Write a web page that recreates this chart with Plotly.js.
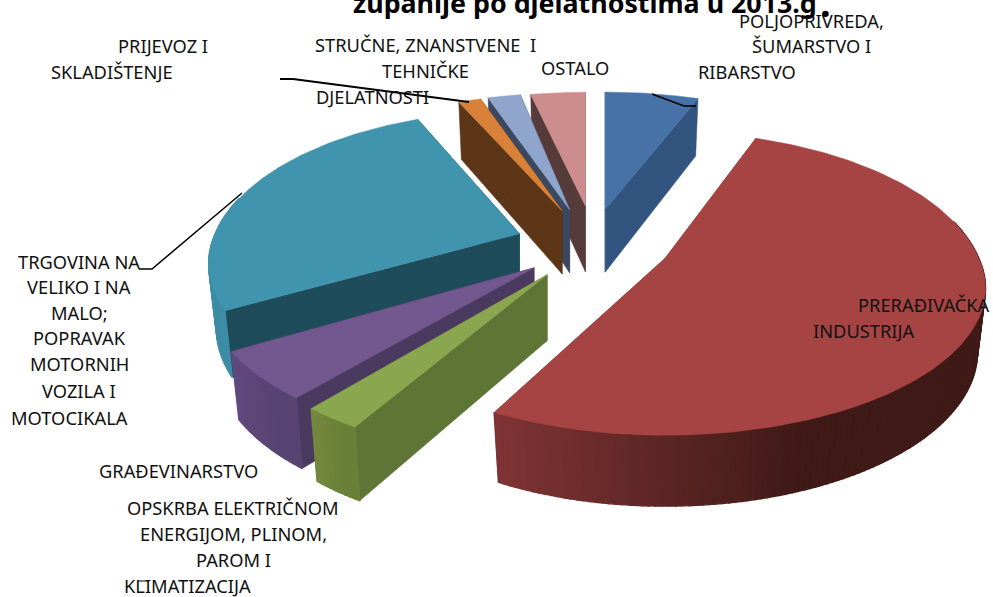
<!DOCTYPE html>
<html><head><meta charset="utf-8">
<script src="https://cdn.plot.ly/plotly-3.0.1.min.js"></script>
<style>html,body{margin:0;padding:0;background:#fff}#c{width:993px;height:597px}</style>
</head><body><div id="c"></div>
<script>
// Shares (percent) in clockwise order from 12 o'clock
const categories = ["POLJOPRIVREDA, ŠUMARSTVO I RIBARSTVO","PRERAĐIVAČKA INDUSTRIJA","OPSKRBA ELEKTRIČNOM ENERGIJOM, PLINOM, PAROM I KLIMATIZACIJA","GRAĐEVINARSTVO","TRGOVINA NA VELIKO I NA MALO; POPRAVAK MOTORNIH VOZILA I MOTOCIKALA","PRIJEVOZ I SKLADIŠTENJE","STRUČNE, ZNANSTVENE I TEHNIČKE DJELATNOSTI","OSTALO"];
const values = [5.6,52,3,5.3,27.6,1.4,1.7,3.4];
const topColors = ["#4672a8","#a64444","#8aa64e","#73578f","#4094ad","#d98139","#8fa5cc","#ce8d8d"];
const cutColors = ["#33547e","#7a3232","#5f7536","#4b3a60","#1f4c5a","#5c3617","#3b4960","#563b3b"];
const sideLeft  = ["#33547e","#7f3434","#74893f","#614a7f","#3e8ca5","#5c3617","#3b4960","#563b3b"];
const sideRight = ["#33547e","#3f1a17","#6a8038","#584472","#3e93ad","#5c3617","#3b4960","#563b3b"];
const paintOrder = [7,6,5,0,4,3,2,1];
// per-slice camera corrections (the source's projection of pulled slices is not a pure translation)
const sliceView = [
 {dx:0,dy:0,da0:0,da1:0.8,sx:1,sy:1,back:1,dH:0},
 {dx:0,dy:0,da0:0,da1:-0.9,sx:1.015,sy:1,back:1.08,dH:-1},
 {dx:0,dy:1,da0:2.8,da1:0.9,sx:1.02,sy:1.03,back:1,dH:3},
 {dx:3,dy:0,da0:0.8,da1:0.8,sx:1.03,sy:1,back:1,dH:1},
 {dx:6,dy:0,da0:3.3,da1:0,sx:0.985,sy:1,back:1.05,dH:0},
 {dx:0,dy:0,da0:0,da1:0,sx:1,sy:1,back:1,dH:0},
 {dx:0,dy:0,da0:0,da1:1.2,sx:1,sy:1,back:1,dH:0},
 {dx:3,dy:-3,da0:0,da1:0,sx:1,sy:1,back:0.97,dH:3}
];
const titleText = "županije po djelatnostima u 2013.g";
const labelLines = [
 ["PRIJEVOZ I",163,45.5],["SKLADIŠTENJE",112,71.5],
 ["STRUČNE, ZNANSTVENE  I",425,44.5],["TEHNIČKE",425,70.5],["DJELATNOSTI",372,96.5],
 ["OSTALO",575,67.5],
 ["POLJOPRIVREDA,",811,20.5],["ŠUMARSTVO I",811,45.5],["RIBARSTVO",747,71.5],
 ["PRERAĐIVAČKA",924,304.5],["INDUSTRIJA",864,330.5],
 ["TRGOVINA NA",79,261.5],["VELIKO I NA",79,286.5],["MALO;",79,312.5],["POPRAVAK",79,337.5],["MOTORNIH",79,363.5],["VOZILA I",79,390.5],["MOTOCIKALA",69,417.5],
 ["GRAĐEVINARSTVO",178,470.5],
 ["OPSKRBA ELEKTRIČNOM",233,507.5],["ENERGIJOM, PLINOM,",233,533.5],["PAROM I",233,559.5],["KLIMATIZACIJA",187,585.5]
];
const leaderLines = [
 {x:[280,293,469],y:[79,79,102],w:2},
 {x:[652,684,696],y:[94,106,106],w:1.6},
 {x:[139,152,242],y:[269,269,193],w:1.5},
 {x:[138,148],y:[581,581],w:1}
];
// camera
const C={x:591,y:244,P:81,Q:35.4}, R=309, k=0.456, c=0.204, H=63, bx=0.975, by=1.05;
const D2R=Math.PI/180;
const hex=s=>[1,3,5].map(i=>parseInt(s.substr(i,2),16));
const mix=(a,b,t)=>{const A=hex(a),B=hex(b);return `rgb(${A.map((v,i)=>Math.round(v+(B[i]-v)*t)).join(",")})`;};
const total=values.reduce((a,b)=>a+b,0);
let acc=0;
const slices=values.map((v,i)=>{const a0=acc/total*2*Math.PI;acc+=v;const a1=acc/total*2*Math.PI;const t=sliceView[i];return{i,a0:a0+t.da0*D2R,a1:a1+t.da1*D2R,m:(a0+a1)/2};});
const traces=[];
const poly=(xs,ys,col,lw)=>traces.push({type:"scatter",mode:"lines",x:[...xs,xs[0]],y:[...ys,ys[0]],fill:"toself",fillcolor:col,line:{color:col,width:lw},hoverinfo:"skip",showlegend:false});
paintOrder.forEach(idx=>{
 const s=slices[idx],t=sliceView[idx];
 const rel=a=>{const u=Math.sin(a),w=-Math.cos(a),f=1/(1-c*w);return [t.sx*R*u*f,(w<0?t.back:t.sy)*R*k*w*f];};
 const ax=C.x+C.P*Math.sin(s.m)+t.dx, ay=C.y-C.Q*Math.cos(s.m)+t.dy, h=H+t.dH;
 const T=a=>{const p=rel(a);return [ax+p[0],ay+p[1]];};
 const B=a=>{const p=rel(a);return [ax+bx*p[0],ay+h+by*p[1]];};
 const face=a=>{const q=T(a),b=B(a);poly([ax,q[0],b[0],ax],[ay,q[1],b[1],ay+h],cutColors[idx],0.5);};
 face(s.a0);face(s.a1);
 const n=Math.max(1,Math.round((s.a1-s.a0)/D2R));
 const pts=[];for(let j=0;j<=n;j++)pts.push(s.a0+(s.a1-s.a0)*j/n);
 const xsT=pts.map(a=>T(a)[0]);const xMin=Math.min(...xsT),xMax=Math.max(...xsT);
 for(let j=0;j<n;j++){
  if(Math.cos((pts[j]+pts[j+1])/2)>0.25)continue;
  const t0=T(pts[j]),t1=T(pts[j+1]),b0=B(pts[j]),b1=B(pts[j+1]);
  const f=((t0[0]+t1[0])/2-xMin)/(xMax-xMin||1);
  poly([t0[0],t1[0],b1[0],b0[0]],[t0[1],t1[1],b1[1],b0[1]],mix(sideLeft[idx],sideRight[idx],Math.min(1,f*1.6)),1.4);
 }
 const xs=[ax],ys=[ay];
 pts.forEach(a=>{const q=T(a);xs.push(q[0]);ys.push(q[1]);});
 poly(xs,ys,topColors[idx],0.5);
});
const labelFont={family:"'Noto Sans',sans-serif",size:18.3,color:"#111"};
const annotations=labelLines.map(l=>({text:l[0],x:l[1],y:l[2],xref:"x",yref:"y",xanchor:"center",yanchor:"middle",showarrow:false,font:labelFont}));
annotations.push({text:"<b>"+titleText+"</b>",x:351,y:2,xref:"x",yref:"y",xanchor:"left",yanchor:"middle",showarrow:false,font:{family:"'Noto Sans',sans-serif",size:26.8,color:"#000"}});
annotations.push({text:"<b>.</b>",x:818,y:2,xref:"x",yref:"y",xanchor:"left",yanchor:"middle",showarrow:false,font:{family:"'Noto Sans',sans-serif",size:38,color:"#000"}});
const shapes=leaderLines.map(l=>({type:"path",path:l.x.map((x,i)=>(i?"L":"M")+x+" "+l.y[i]).join(" "),xref:"x",yref:"y",line:{color:"#000",width:l.w},layer:"above"}));
const noax={visible:false,fixedrange:true};
Plotly.newPlot("c",traces,{width:993,height:597,autosize:false,margin:{l:0,r:0,t:0,b:0},paper_bgcolor:"#fff",plot_bgcolor:"#fff",showlegend:false,
 xaxis:{...noax,range:[0,993]},yaxis:{...noax,range:[597,0]},annotations,shapes},{displayModeBar:false,staticPlot:true});
</script></body></html>
